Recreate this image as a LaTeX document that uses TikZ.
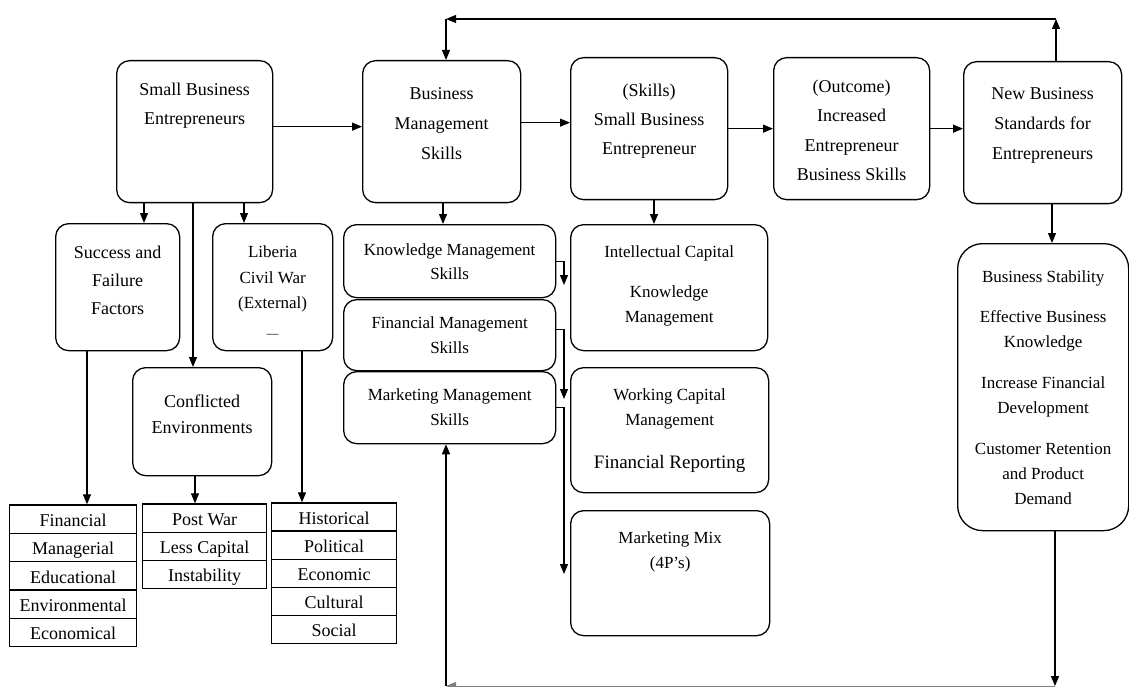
\documentclass[tikz,border=0pt]{standalone}
\usepackage{fontspec}
\setmainfont{Liberation Serif}
\usetikzlibrary{arrows.meta}
\tikzset{
  rbox/.style={draw, line width=1.3pt, rounded corners=13pt, inner sep=0pt, anchor=north west},
  big/.style={font=\fontsize{18}{29}\selectfont},
  mid/.style={font=\fontsize{17}{25}\selectfont},
  cell/.style={draw, line width=1.3pt, inner sep=0pt, anchor=north west,
    font=\fontsize{18}{20}\selectfont, text height=15pt, text depth=0pt},
  arr/.style={line width=1.2pt, -{Triangle[length=10pt,width=8pt]}},
}
\newcommand{\bx}[4]{\parbox[c][#2pt][t]{#1pt}{\centering\rule{0pt}{#3pt}#4}}
\begin{document}
\begin{tikzpicture}[x=1pt,y=-1pt]
\useasboundingbox (0,0) rectangle (1129,687);
\clip (0,0) rectangle (1129,687);

% top row
\node[rbox, big] (sbe) at (116,60) {\bx{156}{142}{35}{Small Business\\Entrepreneurs}};
\node[rbox, font=\fontsize{18}{30}\selectfont] (bms) at (362,60) {\bx{158}{142}{39}{Business\\Management\\Skills}};
\node[rbox, big] (skl) at (570,57) {\bx{157}{142}{39}{(Skills)\\Small Business\\Entrepreneur}};
\node[rbox, font=\fontsize{18}{29.3}\selectfont] (out) at (773,57) {\bx{156}{142}{35}{(Outcome)\\Increased\\Entrepreneur\\Business Skills}};
\node[rbox, font=\fontsize{18}{30}\selectfont] (nbs) at (963,61) {\bx{158}{142}{38}{New Business\\Standards for\\Entrepreneurs}};

% second row left
\node[rbox, font=\fontsize{18}{28}\selectfont] (suc) at (55,223) {\bx{124}{127}{35}{Success and\\Failure\\Factors}};
\node[rbox, font=\fontsize{17}{25.5}\selectfont] (lib) at (212,223) {\bx{120}{127}{34}{Liberia\\Civil War\\(External)\\[3pt]{\fontsize{12}{12}\selectfont —}}};
\node[rbox, font=\fontsize{18}{26}\selectfont] (con) at (132,367) {\bx{139}{108}{40}{Conflicted\\Environments}};

% management skills
\node[rbox, font=\fontsize{17}{24}\selectfont] (kms) at (343,224) {\bx{212}{73}{31}{Knowledge Management\\Skills}};
\node[rbox, mid] (fms) at (343,299) {\bx{212}{71}{29}{Financial Management\\Skills}};
\node[rbox, mid] (mms) at (343,371) {\bx{212}{72}{29}{Marketing Management\\Skills}};

% skills outcomes
\node[rbox, mid] (ic) at (570,224) {\bx{197}{126}{33}{Intellectual Capital\\[15pt]Knowledge\\Management}};
\node[rbox, mid] (wc) at (570,367) {\bx{198}{125}{33}{Working Capital\\Management\\[18pt]{\fontsize{19}{25}\selectfont Financial Reporting}}};
\node[rbox, mid] (mm) at (570,510) {\bx{199}{125}{33}{Marketing Mix\\(4P’s)}};

% business stability
\node[rbox, mid, rounded corners=25pt] (bs) at (957,243) {\bx{171}{287}{39}{Business Stability\\[15pt]Effective Business\\Knowledge\\[16pt]Increase Financial\\Development\\[16pt]Customer Retention\\and Product\\Demand}};

% tables
\node[cell, minimum width=127pt, minimum height=28.3pt] (t1a) at (9,504.3) {Financial};
\node[cell, minimum width=127pt, minimum height=28.3pt] (t1b) at (9,532.6) {Managerial};
\node[cell, minimum width=127pt, minimum height=28.3pt] (t1c) at (9,560.9) {Educational};
\node[cell, minimum width=127pt, minimum height=28.3pt] (t1d) at (9,589.2) {Environmental};
\node[cell, minimum width=127pt, minimum height=28.3pt] (t1e) at (9,617.5) {Economical};

\node[cell, minimum width=124pt, minimum height=28.2pt] (t2a) at (142,503.3) {Post War};
\node[cell, minimum width=124pt, minimum height=28.2pt] (t2b) at (142,531.5) {Less Capital};
\node[cell, minimum width=124pt, minimum height=28.2pt] (t2c) at (142,559.7) {Instability};

\node[cell, minimum width=125pt, minimum height=28.1pt] (t3a) at (271,502.3) {Historical};
\node[cell, minimum width=125pt, minimum height=28.1pt] (t3b) at (271,530.4) {Political};
\node[cell, minimum width=125pt, minimum height=28.1pt] (t3c) at (271,558.5) {Economic};
\node[cell, minimum width=125pt, minimum height=28.1pt] (t3d) at (271,586.6) {Cultural};
\node[cell, minimum width=125pt, minimum height=28.1pt] (t3e) at (271,614.7) {Social};

% helper coordinates
\coordinate (x144) at (144,0);
\coordinate (x244) at (244,0);
\coordinate (x193) at (193,0);
\coordinate (x87) at (87,0);
\coordinate (x195) at (195,0);
\coordinate (x302) at (302,0);
\coordinate (x443) at (443,0);
\coordinate (x654) at (654,0);
\coordinate (x1052) at (1052,0);
\coordinate (e1) at (564,285);
\coordinate (e2) at (564,399);
\coordinate (e3) at (564,574);
\coordinate (tr) at (1056,19);
\coordinate (tl) at (446,19);
\coordinate (br) at (1055,686);
\coordinate (bl) at (446,686);

% horizontal main flow
\draw[arr] ([yshift=5pt]sbe.east) -- ([yshift=5pt]sbe.east -| bms.west);
\draw[arr] ([yshift=9pt]bms.east) -- ([yshift=9pt]bms.east -| skl.west);
\draw[arr] (skl.east) -- (skl.east -| out.west);
\draw[arr] (out.east) -- (out.east -| nbs.west);

% downward connectors
\draw[arr] (sbe.south -| x144) -- (suc.north -| x144);
\draw[arr] (sbe.south -| x244) -- (lib.north -| x244);
\draw[arr] (sbe.south -| x193) -- (con.north -| x193);
\draw[arr] (suc.south -| x87) -- (t1a.north -| x87);
\draw[arr] (con.south -| x195) -- (t2a.north -| x195);
\draw[arr] (lib.south -| x302) -- (t3a.north -| x302);
\draw[arr] (bms.south -| x443) -- (kms.north -| x443);
\draw[arr] (skl.south -| x654) -- (ic.north -| x654);
\draw[arr] (nbs.south -| x1052) -- (bs.north -| x1052);

% skill links
\draw[arr] (kms.east) -| (e1);
\draw[arr] ([yshift=6pt]fms.east) -| (e2);
\draw[arr] (mms.east) -| (e3);

% top feedback loop
\draw[arr] (nbs.north -| tr) -- (tr);
\draw[arr] (tr) -- (tl);
\draw[arr] (tl) -- (tl |- bms.north);

% bottom feedback loop
\draw[arr] (bs.south -| br) -- (br);
\draw[arr, draw=gray, line width=0.9pt] (br) -- (bl);
\draw[arr] (bl) -- (bl |- mms.south);
\end{tikzpicture}
\end{document}
